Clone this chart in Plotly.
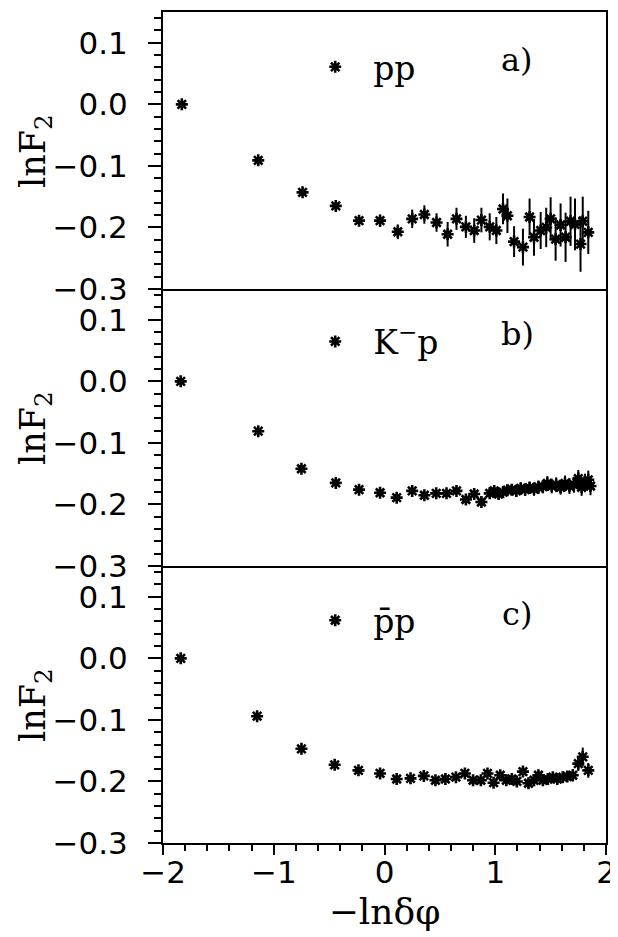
import plotly.graph_objects as go
from plotly.subplots import make_subplots

# ---- panel a) pp ----
xa = [-1.83, -1.14, -0.74, -0.44, -0.23, -0.04, 0.12, 0.25, 0.36, 0.47, 0.57, 0.65, 0.735,
      0.81, 0.875, 0.95, 1.01, 1.07, 1.11, 1.17, 1.25, 1.31, 1.35, 1.41, 1.46, 1.50, 1.545,
      1.59, 1.635, 1.68, 1.72, 1.77, 1.79, 1.84]
ya = [0.0, -0.091, -0.143, -0.165, -0.189, -0.189, -0.207, -0.186, -0.179, -0.192, -0.211,
      -0.186, -0.199, -0.205, -0.188, -0.199, -0.205, -0.170, -0.181, -0.223, -0.232, -0.183,
      -0.216, -0.205, -0.200, -0.186, -0.219, -0.196, -0.216, -0.190, -0.195, -0.227, -0.190,
      -0.208]
ea = [0.003, 0.003, 0.004, 0.005, 0.008, 0.010, 0.012, 0.015, 0.015, 0.015, 0.020, 0.018,
      0.018, 0.020, 0.020, 0.022, 0.022, 0.025, 0.028, 0.025, 0.030, 0.030, 0.030, 0.030,
      0.032, 0.035, 0.035, 0.035, 0.040, 0.040, 0.042, 0.045, 0.040, 0.035]

# ---- panel b) K-p ----
xb = [-1.84, -1.14, -0.75, -0.44, -0.23, -0.04, 0.11, 0.25, 0.36, 0.467, 0.56, 0.65, 0.735,
      0.81, 0.875, 0.95, 0.99, 1.03, 1.07, 1.11, 1.15, 1.19, 1.23, 1.27, 1.31, 1.35, 1.39,
      1.43, 1.47, 1.51, 1.55, 1.59, 1.63, 1.67, 1.71, 1.75, 1.78, 1.81, 1.84, 1.86]
yb = [0.0, -0.081, -0.142, -0.165, -0.176, -0.181, -0.189, -0.178, -0.185, -0.182, -0.182,
      -0.178, -0.192, -0.183, -0.196, -0.182, -0.178, -0.183, -0.180, -0.177, -0.176, -0.178,
      -0.174, -0.176, -0.173, -0.175, -0.172, -0.171, -0.166, -0.170, -0.168, -0.172, -0.166,
      -0.170, -0.168, -0.158, -0.172, -0.165, -0.160, -0.170]
eb = [0.002, 0.002, 0.003, 0.003, 0.003, 0.004, 0.004, 0.005, 0.005, 0.005, 0.006, 0.006,
      0.006, 0.007, 0.007, 0.008, 0.008, 0.008, 0.009, 0.009, 0.009, 0.010, 0.010, 0.010,
      0.010, 0.011, 0.011, 0.011, 0.012, 0.012, 0.012, 0.012, 0.013, 0.013, 0.013, 0.014,
      0.014, 0.015, 0.015, 0.015]

# ---- panel c) pbar-p ----
xc = [-1.84, -1.15, -0.75, -0.45, -0.235, -0.04, 0.11, 0.235, 0.355, 0.46, 0.55, 0.645,
      0.726, 0.80, 0.87, 0.93, 0.985, 1.045, 1.10, 1.15, 1.195, 1.25, 1.30, 1.35, 1.39,
      1.43, 1.475, 1.52, 1.56, 1.61, 1.65, 1.70, 1.75, 1.79, 1.84]
yc = [0.0, -0.094, -0.147, -0.173, -0.182, -0.187, -0.196, -0.195, -0.191, -0.198, -0.196,
      -0.193, -0.187, -0.198, -0.198, -0.187, -0.202, -0.190, -0.198, -0.196, -0.200, -0.184,
      -0.203, -0.198, -0.190, -0.198, -0.196, -0.193, -0.196, -0.193, -0.192, -0.190, -0.171,
      -0.160, -0.182]
ec = [0.002, 0.002, 0.002, 0.003, 0.003, 0.003, 0.003, 0.004, 0.004, 0.004, 0.004, 0.005,
      0.005, 0.005, 0.005, 0.005, 0.006, 0.006, 0.006, 0.006, 0.006, 0.007, 0.007, 0.007,
      0.007, 0.008, 0.008, 0.008, 0.008, 0.009, 0.009, 0.010, 0.012, 0.015, 0.012]

names = ["pp", "K<sup>\u2212</sup>p", "p\u0304p"]
tags = ["a)", "b)", "c)"]
yticks = [-0.3, -0.2, -0.1, 0.0, 0.1]
yticktext = ["\u22120.3", "\u22120.2", "\u22120.1", "0.0", "0.1"]
xticks = [-2, -1, 0, 1, 2]
xticktext = ["\u22122", "\u22121", "0", "1", "2"]

SERIF = "DejaVu Serif"
SANS = "DejaVu Sans"

fig = make_subplots(rows=3, cols=1, shared_xaxes=True, vertical_spacing=0)

series = [(xa, ya, ea), (xb, yb, eb), (xc, yc, ec)]
legend_ids = ["legend", "legend2", "legend3"]
for i, (x, y, e) in enumerate(series):
    fig.add_trace(go.Scatter(
        x=x, y=y, mode="markers", name=names[i], legend=legend_ids[i],
        marker=dict(symbol="asterisk-open", size=10, color="black",
                    line=dict(color="black", width=2.6)),
        error_y=dict(type="data", array=e, visible=True, color="black",
                     thickness=2, width=0),
    ), row=i + 1, col=1)

legend_y = [0.934, 0.6035, 0.268]
tag_y = [0.942, 0.612, 0.276]
panel_mid = [5 / 6, 0.5, 1 / 6]
leg_common = dict(x=0.303, xanchor="left", yanchor="middle", bgcolor="rgba(0,0,0,0)",
                  font=dict(family=SERIF, size=33, color="black"), itemwidth=66,
                  borderwidth=0)
fig.update_layout(
    legend=dict(y=legend_y[0], **leg_common),
    legend2=dict(y=legend_y[1], **leg_common),
    legend3=dict(y=legend_y[2], **leg_common),
)

for i in range(3):
    fig.add_annotation(text=tags[i], xref="paper", yref="paper", x=0.80, y=tag_y[i],
                       xanchor="center", yanchor="middle", showarrow=False,
                       font=dict(family=SERIF, size=32, color="black"))
    fig.add_annotation(text="lnF<sub>2</sub>", xref="paper", yref="paper", x=-0.288,
                       y=panel_mid[i], xanchor="center", yanchor="middle", textangle=-90,
                       showarrow=False, font=dict(family=SERIF, size=35, color="black"))

for i in range(3):
    fig.update_yaxes(
        row=i + 1, col=1, range=[-0.3, 0.15],
        tickvals=yticks, ticktext=yticktext, ticks="outside", ticklen=13, tickwidth=2,
        tickcolor="black", showline=True, linecolor="black", linewidth=2, mirror=True,
        showgrid=False, zeroline=False, ticklabelstandoff=14,
        tickfont=dict(family=SANS, size=31, color="black"),
        minor=dict(dtick=0.02, tick0=0, ticks="outside", ticklen=7, tickwidth=2,
                   tickcolor="black", showgrid=False),
    )
    fig.update_xaxes(
        row=i + 1, col=1, range=[-2, 2], showline=True, linecolor="black", linewidth=2,
        mirror=(i == 0), showgrid=False, zeroline=False,
        ticks="outside" if i == 2 else "", showticklabels=(i == 2),
        tickvals=xticks, ticktext=xticktext, ticklen=10, tickwidth=2, tickcolor="black",
        tickfont=dict(family=SANS, size=31, color="black"),
        ticklabeloverflow="allow",
    )
fig.update_xaxes(row=3, col=1, ticklabelstandoff=-9,
                 minor=dict(dtick=0.2, tick0=0, ticks="outside", ticklen=6, tickwidth=2,
                            tickcolor="black", showgrid=False),
                 title=dict(text="\u2212ln\u03b4\u03c6",
                            font=dict(family=SERIF, size=36, color="black"), standoff=10))

fig.update_layout(
    width=610, height=929, margin=dict(l=155, r=7, t=2, b=94),
    plot_bgcolor="white", paper_bgcolor="white", showlegend=True,
)

fig.write_html("out.html")
